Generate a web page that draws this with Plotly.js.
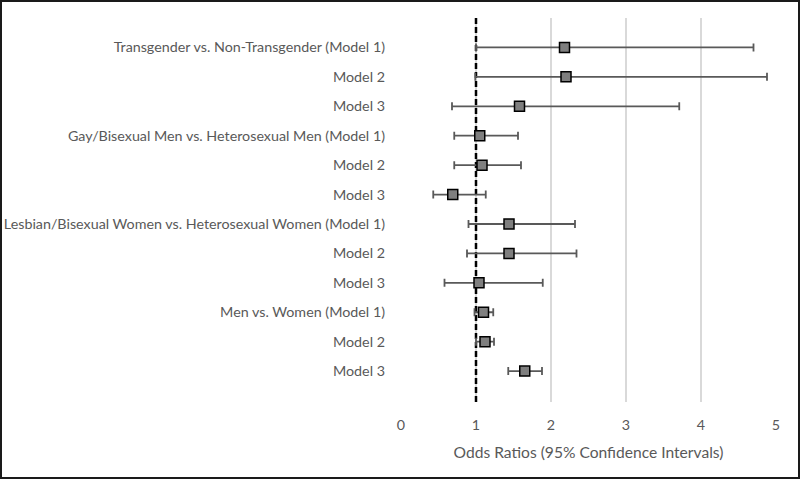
<!DOCTYPE html>
<html>
<head>
<meta charset="utf-8">
<script src="https://cdn.plot.ly/plotly-3.0.1.min.js"></script>
<style>
  html, body { margin: 0; padding: 0; background: #fff; }
  #wrap { width: 800px; height: 479px; box-sizing: border-box; border: 2px solid #1a1a1a; overflow: hidden; }
  #chart { width: 796px; height: 475px; }
</style>
</head>
<body>
<div id="wrap"><div id="chart"></div></div>
<script>
// Row labels, top to bottom
const labels = [
  "Transgender vs. Non-Transgender (Model 1)",
  "Model 2",
  "Model 3",
  "Gay/Bisexual Men vs. Heterosexual Men (Model 1)",
  "Model 2",
  "Model 3",
  "Lesbian/Bisexual Women vs. Heterosexual Women (Model 1)",
  "Model 2",
  "Model 3",
  "Men vs. Women (Model 1)",
  "Model 2",
  "Model 3"
];
// Odds ratios and 95% CI bounds
const oddsRatio = [2.18, 2.20, 1.58, 1.05, 1.08, 0.69, 1.44, 1.44, 1.04, 1.10, 1.12, 1.65];
const ciLower   = [1.00, 0.99, 0.68, 0.71, 0.71, 0.43, 0.90, 0.88, 0.58, 0.98, 1.00, 1.43];
const ciUpper   = [4.70, 4.88, 3.71, 1.56, 1.60, 1.13, 2.32, 2.34, 1.89, 1.23, 1.24, 1.88];
const xTicks = [0, 1, 2, 3, 4, 5];
const refLine = 1;
const yRange = [-0.05, 13];

const n = labels.length;
const yPos = labels.map((_, i) => n - i);

const refTrace = {
  type: "scatter",
  mode: "lines",
  x: [refLine, refLine],
  y: yRange,
  line: { color: "#000000", width: 2.5, dash: "6px,3px" },
  hoverinfo: "skip",
  showlegend: false,
  cliponaxis: true
};

const trace = {
  type: "scatter",
  mode: "markers",
  x: oddsRatio,
  y: yPos,
  marker: { symbol: "square", size: 10, color: "#7f7f7f", line: { color: "#000", width: 1.5 } },
  error_x: {
    type: "data",
    symmetric: false,
    array: oddsRatio.map((v, i) => ciUpper[i] - v),
    arrayminus: oddsRatio.map((v, i) => v - ciLower[i]),
    color: "#595959",
    thickness: 1.8,
    width: 4
  },
  hoverinfo: "x+y",
  showlegend: false
};

const font = "Lato, 'Open Sans', sans-serif";

const layout = {
  width: 796,
  height: 475,
  margin: { l: 398.5, r: 22, t: 16, b: 75 },
  paper_bgcolor: "#fff",
  plot_bgcolor: "#fff",
  font: { family: font, size: 14, color: "#595959" },
  xaxis: {
    range: [0, 5],
    tickvals: xTicks,
    ticktext: xTicks.map(String),
    showgrid: true,
    gridcolor: "#d9d9d9",
    gridwidth: 1.5,
    zeroline: false,
    showline: false,
    ticks: "outside",
    ticklen: 10,
    tickcolor: "rgba(0,0,0,0)",
    tickfont: { family: font, size: 14.3, color: "#595959" },
    title: { text: "Odds Ratios (95% Confidence Intervals)", font: { family: font, size: 15.6, color: "#595959" }, standoff: 14 }
  },
  yaxis: {
    range: yRange,
    tickvals: yPos,
    ticktext: labels,
    showgrid: false,
    zeroline: false,
    showline: false,
    ticks: "",
    ticklabelstandoff: 15,
    tickfont: { family: font, size: 14.3, color: "#595959" }
  }
};

Plotly.newPlot("chart", [refTrace, trace], layout, { staticPlot: true, displayModeBar: false });
</script>
</body>
</html>
